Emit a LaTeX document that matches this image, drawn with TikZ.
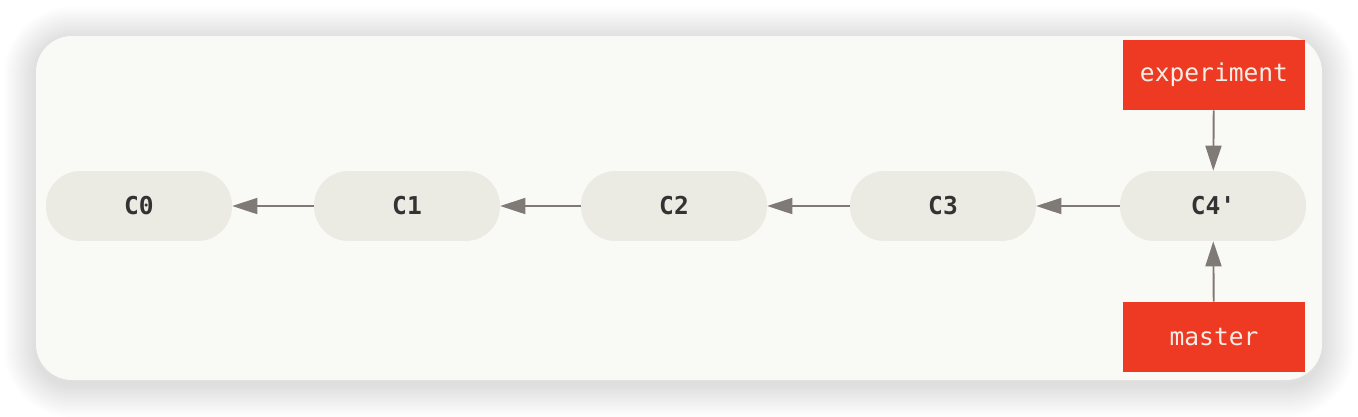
\documentclass[tikz,border=0pt]{standalone}
\usepackage{fontspec}
\setmonofont{DejaVu Sans Mono}
\usetikzlibrary{arrows.meta}
\definecolor{panelbg}{HTML}{F9F9F5}
\definecolor{commitbg}{HTML}{EBEBE3}
\definecolor{branchred}{HTML}{EE3A23}
\definecolor{arrowgray}{HTML}{7F7A75}
\definecolor{commitfg}{HTML}{333333}
\definecolor{branchfg}{HTML}{F4EEE6}

\begin{document}
\begin{tikzpicture}[x=0.02cm,y=-0.02cm,
  commit/.style={rectangle,rounded corners=0.69cm,fill=commitbg,minimum width=3.72cm,minimum height=1.4cm,text=commitfg,font=\ttfamily\bfseries\fontsize{14}{16}\selectfont},
  branch/.style={rectangle,fill=branchred,minimum width=3.64cm,minimum height=1.4cm,text=branchfg,font=\ttfamily\fontsize{14}{16}\selectfont},
  parent/.style={draw=arrowgray,line width=1.1pt,-{Triangle[length=0.5cm,width=0.32cm]}}]
\useasboundingbox (0,0) rectangle (1358,416);
\fill[white] (0,0) rectangle (1358,416);
%%%% shadow
\foreach \r in {1,...,16}
  \fill[black,opacity=0.006,rounded corners=0.72cm+\r*0.04cm] (36-2*\r,39-2*\r) rectangle (1322+2*\r,385+2*\r);
%%%% panel
\fill[panelbg,rounded corners=0.72cm] (36,36) rectangle (1322,380);
%%%% commits
\node[commit] (c0) at (139,206) {C0};
\node[commit] (c1) at (407,206) {C1};
\node[commit] (c2) at (674,206) {C2};
\node[commit] (c3) at (943,206) {C3};
\node[commit] (c4) at (1213,206) {C4'};
%%%% branches
\node[branch] (experiment) at (1214,75) {experiment};
\node[branch] (master) at (1214,337) {master};
%
\draw[parent] (c1)--(c0);
\draw[parent] (c2)--(c1);
\draw[parent] (c3)--(c2);
\draw[parent] (c4)--(c3);
\draw[parent] (experiment)--(c4);
\draw[parent] (master)--(c4);
\end{tikzpicture}
\end{document}
